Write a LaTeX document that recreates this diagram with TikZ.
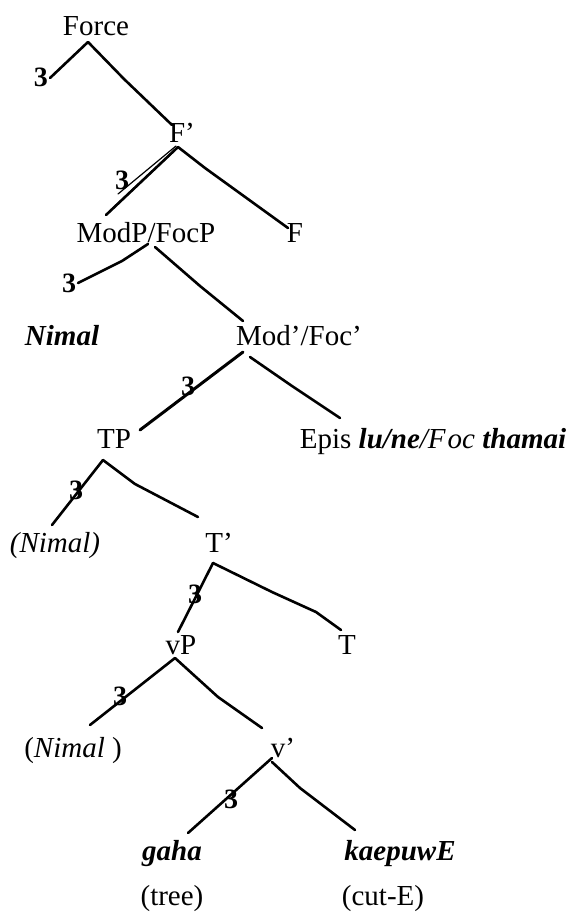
\documentclass[tikz,border=0pt]{standalone}
\usepackage{fontspec}
\setmainfont{Liberation Serif}
\usetikzlibrary{calc}
\begin{document}
\begin{tikzpicture}[x=1pt,y=-1pt,
  lab/.style={inner sep=0pt,anchor=base,font=\fontsize{29}{34}\selectfont},
  three/.style={inner sep=0pt,font=\fontsize{28}{30}\selectfont\bfseries},
  br/.style={line width=2.6pt,line cap=round,line join=round}]
\useasboundingbox (0,0) rectangle (572,916);
% labels
\node[lab] (force) at (96,35) {Force};
\node[lab] (fbar) at (182,142) {F’};
\node[lab] (modp) at (146,242) {ModP/FocP};
\node[lab] (f) at (295,242) {F};
\node[lab] (nimal1) at (62,345) {\textbf{\textit{Nimal}}};
\node[lab] (modbar) at (299,345) {Mod’/Foc’};
\node[lab] (tp) at (114,448) {TP};
\node[lab] (epis) at (433,448) {Epis \textbf{\textit{lu/ne}}\textit{/F\kern2pt oc} \textbf{\textit{thamai}}};
\node[lab] (nimal2) at (55,552) {\textit{(Nimal)}};
\node[lab] (tbar) at (219,552) {T’};
\node[lab] (vp) at (181,654) {vP};
\node[lab] (t) at (347,654) {T};
\node[lab] (nimal3) at (73,757) {(\textit{Nimal} )};
\node[lab] (vbar) at (283,757) {v’};
\node[lab] (gaha) at (172,860) {\textbf{\textit{gaha}}};
\node[lab] (kaep) at (400,860) {\textbf{\textit{kaepuwE}}};
\node[lab] (tree) at (172,905) {(tree)};
\node[lab] (cut) at (383,905) {(cut-E)};
% branch points and ends
\coordinate (a0) at (88,42);  \coordinate (a1) at (50,78);  \coordinate (a2) at (172,125);
\coordinate (b0) at (178,147); \coordinate (b1) at (106,215); \coordinate (b2) at (288,228);
\coordinate (c0) at (148,244); \coordinate (c1) at (78,283);
\coordinate (c3) at (155,247); \coordinate (c2) at (243,321);
\coordinate (d0) at (243,352); \coordinate (d1) at (140,430);
\coordinate (d3) at (250,357); \coordinate (d2) at (340,418);
\coordinate (e0) at (103,460); \coordinate (e1) at (52,525); \coordinate (e2) at (198,517);
\coordinate (g0) at (213,563); \coordinate (g1) at (178,632); \coordinate (g2) at (341,630);
\coordinate (h0) at (175,658); \coordinate (h1) at (90,725); \coordinate (h2) at (262,728);
\coordinate (k0) at (272,758); \coordinate (k1) at (188,833); \coordinate (k2) at (355,830);
% branches
\draw[br] (a0) -- (a1);
\draw[br] (a0) -- (124,79) -- (a2);
\draw[br] (b0) -- (b1);
\draw[line width=1.6pt,line cap=round] ($(b0)+(-4,4)$) -- ($(b1)+(6,-6)$);
\draw[line width=1.2pt,line cap=round] ($(b0)+(-2,-1)$) -- (118,194);
\draw[br] (b0) -- (205,168) -- (b2);
\draw[br] (c0) -- (122,261) -- (c1);
\draw[br] (c3) -- (200,286) -- (c2);
\draw[br,line width=3pt] (d0) -- (d1);
\draw[br] (d3) -- (292,386) -- (d2);
\draw[br] (e0) -- (e1);
\draw[br] (e0) -- (135,484) -- (e2);
\draw[br] (g0) -- (g1);
\draw[br] (g0) -- (272,592) -- (316,612) -- (g2);
\draw[br] (h0) -- (h1);
\draw[br] (h0) -- (218,697) -- (h2);
\draw[br] (k0) -- (k1);
\draw[br] ($(k0)+(0,4)$) -- (300,788) -- (k2);
% the 3 marks
\node[three] (m1) at (41,77) {3};
\node[three] (m2) at (122,180) {3};
\node[three] (m3) at (69,283) {3};
\node[three] (m4) at (188,386) {3};
\node[three] (m5) at (76,490) {3};
\node[three] (m6) at (195,594) {3};
\node[three] (m7) at (120,696) {3};
\node[three] (m8) at (231,799) {3};
\end{tikzpicture}
\end{document}
